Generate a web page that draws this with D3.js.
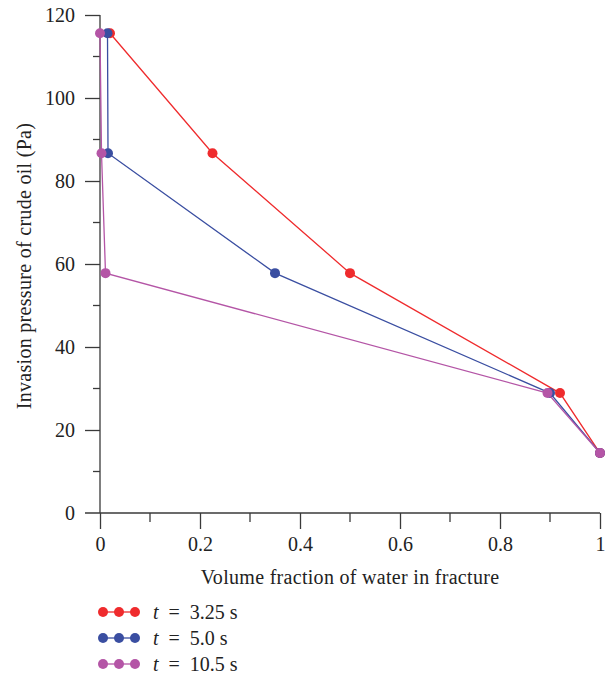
<!DOCTYPE html>
<html><head><meta charset="utf-8">
<script src="https://cdn.jsdelivr.net/npm/d3@7"></script>
<style>body{margin:0;background:#fff}svg{display:block}</style>
</head><body>
<script>
const seriesNames = ["3.25", "5.0", "10.5"];
const seriesColors = ["#ef2b2d", "#3a4ea1", "#b455a6"];
const pressure = [115.6, 86.7, 57.8, 28.9, 14.45];
const waterRed = [0.02, 0.225, 0.5, 0.92, 1.0];
const waterBlue = [0.015, 0.016, 0.35, 0.9, 1.0];
const waterPurple = [0.0, 0.003, 0.011, 0.895, 1.0];
const xTicks = [0, 0.2, 0.4, 0.6, 0.8, 1];
const xMinor = [0.1, 0.3, 0.5, 0.7, 0.9];
const yTicks = [0, 20, 40, 60, 80, 100, 120];
const yMinor = [10, 30, 50, 70, 90, 110];

const W = 613, H = 676;
const svg = d3.select("body").append("svg").attr("width", W).attr("height", H);
const x = d3.scaleLinear().domain([0, 1]).range([100, 600]);
const y = d3.scaleLinear().domain([0, 120]).range([513, 15]);
const font = "Liberation Serif, Times New Roman, serif";
const axisColor = "#3a3a3a";
const fs = 20;

// axes
const xAxis = svg.append("g").attr("transform", `translate(0,${y(0)})`)
  .call(d3.axisBottom(x).tickValues(xTicks).tickSize(16).tickPadding(8)
    .tickFormat(d => d === 0 ? "0" : d === 1 ? "1" : d3.format(".1f")(d)));
xAxis.select(".domain").attr("d", `M85,0H${x(1)}`);
xAxis.selectAll("line").attr("stroke", axisColor).attr("stroke-width", 1.3);
xAxis.select(".domain").attr("stroke", axisColor).attr("stroke-width", 1.3);
xAxis.selectAll("text").attr("font-family", font).attr("font-size", fs).attr("fill", "#222");
svg.append("g").selectAll("line").data(xMinor).join("line")
  .attr("x1", d => x(d)).attr("x2", d => x(d)).attr("y1", y(0)).attr("y2", y(0) + 9)
  .attr("stroke", axisColor).attr("stroke-width", 1.3);

const yAxis = svg.append("g").attr("transform", `translate(${x(0)},0)`)
  .call(d3.axisLeft(y).tickValues(yTicks).tickSize(15).tickPadding(10));
yAxis.select(".domain").attr("d", `M0,${y(120)}V${y(0)}`).attr("stroke", axisColor).attr("stroke-width", 1.3);
yAxis.selectAll("line").attr("stroke", axisColor).attr("stroke-width", 1.3);
yAxis.selectAll(".tick").filter(d => d === 0).select("line").remove();
yAxis.selectAll("text").attr("font-family", font).attr("font-size", fs).attr("fill", "#222");
svg.append("g").selectAll("line").data(yMinor).join("line")
  .attr("x1", x(0) - 7).attr("x2", x(0)).attr("y1", d => y(d)).attr("y2", d => y(d))
  .attr("stroke", axisColor).attr("stroke-width", 1.3);

// titles
svg.append("text").attr("x", 350).attr("y", 584).attr("text-anchor", "middle")
  .attr("font-family", font).attr("font-size", fs).attr("letter-spacing", 0.3).attr("fill", "#222")
  .text("Volume fraction of water in fracture");
svg.append("text").attr("transform", `translate(31,266) rotate(-90)`).attr("text-anchor", "middle")
  .attr("font-family", font).attr("font-size", fs).attr("letter-spacing", 0.3).attr("fill", "#222")
  .text("Invasion pressure of crude oil (Pa)");

// series
const allWater = [waterRed, waterBlue, waterPurple];
const line = d3.line().x(d => x(d[0])).y(d => y(d[1]));
allWater.forEach((w, i) => {
  const pts = w.map((v, j) => [v, pressure[j]]);
  const g = svg.append("g");
  g.append("path").attr("d", line(pts)).attr("fill", "none")
    .attr("stroke", seriesColors[i]).attr("stroke-width", 1.3);
  g.selectAll("circle").data(pts).join("circle")
    .attr("cx", d => x(d[0])).attr("cy", d => y(d[1])).attr("r", 5)
    .attr("fill", seriesColors[i]);
});

// legend
const lg = svg.append("g");
seriesNames.forEach((name, i) => {
  const yy = 612 + i * 26;
  lg.append("line").attr("x1", 103).attr("x2", 135).attr("y1", yy).attr("y2", yy)
    .attr("stroke", seriesColors[i]).attr("stroke-width", 1.3);
  [103, 119, 135].forEach(cx => lg.append("circle").attr("cx", cx).attr("cy", yy).attr("r", 5).attr("fill", seriesColors[i]));
  const t = lg.append("text").attr("x", 153).attr("y", yy + 7)
    .attr("font-family", font).attr("font-size", fs).attr("fill", "#222");
  t.append("tspan").attr("font-style", "italic").text("t");
  t.append("tspan").attr("xml:space", "preserve").text("\u2002=\u2002" + name + " s");
});
</script>
</body></html>
